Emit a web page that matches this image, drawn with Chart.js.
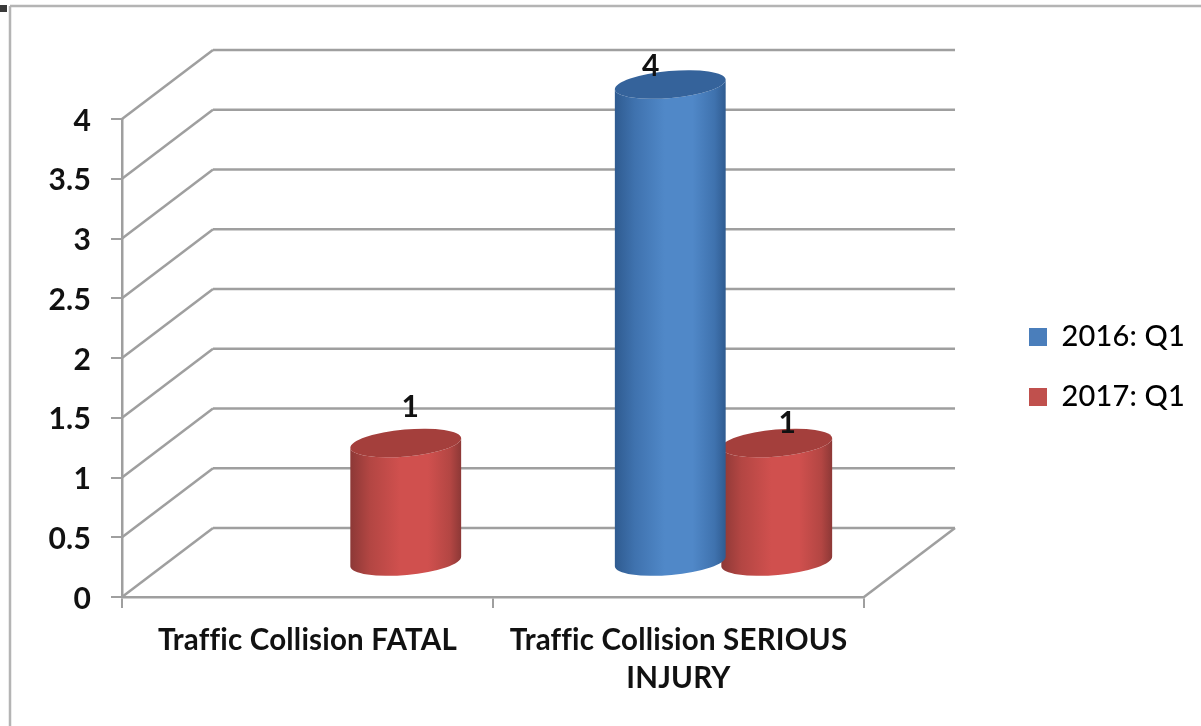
<!DOCTYPE html>
<html>
<head>
<meta charset="utf-8">
<title>Traffic collisions</title>
<script src="https://cdn.jsdelivr.net/npm/chart.js@4"></script>
<style>
    html, body { margin: 0; padding: 0; background: #fff; }
    #wrap { position: relative; width: 1201px; height: 726px; overflow: hidden; }
    canvas { filter: blur(0.5px); }
</style>
</head>
<body>
<div id="wrap"><canvas id="chart" width="1201" height="726"></canvas></div>
<script>
const categories = ['Traffic Collision FATAL', ['Traffic Collision SERIOUS', 'INJURY']];
const seriesNames = ['2016: Q1', '2017: Q1'];
const values2016 = [null, 4];
const values2017 = [1, 1];

const FONT = 'Lato, sans-serif';
const LINE = '#9f9f9f';
const DEPTH_X = 91;   // how far the back wall sits behind the axes
const DEPTH_Y = 69;

// light, dark and cap colours of each cylinder
const shades = [
    { mid: '#5088c8', edge: '#2f5b90', soft: '#3f72ae', cap: '#35639b' },
    { mid: '#d0504e', edge: '#8c3836', soft: '#b34643', cap: '#a43f3c' }
];
// Excel placed these labels by hand, so they do not follow the bar centre
const labelNudge = [
    [null, { x: -20, y: -18 }],
    [{ x: 4, y: -36 }, { x: 10, y: -20 }]
];

function strokeLine(ctx, x1, y1, x2, y2) {
    ctx.beginPath();
    ctx.moveTo(x1, y1);
    ctx.lineTo(x2, y2);
    ctx.stroke();
}

function drawCylinder(ctx, bar, shade) {
    const cx = bar.x + DEPTH_X / 2 - 0.5;
    const rx = bar.width * 1.045 / 2;
    const ry = 13.5;
    const tilt = -0.09;
    const top = bar.y - DEPTH_Y / 2;
    const base = bar.base - DEPTH_Y / 2;

    const grad = ctx.createLinearGradient(cx - rx, 0, cx + rx, 0);
    grad.addColorStop(0, shade.edge);
    grad.addColorStop(0.18, shade.soft);
    grad.addColorStop(0.45, shade.mid);
    grad.addColorStop(0.7, shade.mid);
    grad.addColorStop(0.9, shade.soft);
    grad.addColorStop(1, shade.edge);

    ctx.fillStyle = grad;
    ctx.beginPath();
    ctx.ellipse(cx, base, rx, ry, tilt, 0, Math.PI);
    ctx.ellipse(cx, top, rx, ry, tilt, Math.PI, 0, true);
    ctx.closePath();
    ctx.fill();

    ctx.fillStyle = shade.cap;
    ctx.beginPath();
    ctx.ellipse(cx, top, rx, ry, tilt, 0, Math.PI * 2);
    ctx.fill();
}

const chart3d = {
    id: 'chart3d',
    beforeLayout(chart) {
        // the legend sits far right of the plot, so give it the whole right margin
        if (!chart.legend.patched) {
            const fit = chart.legend.fit;
            chart.legend.fit = function () {
                fit.call(this);
                this.width = 337;
            };
            chart.legend.patched = true;
        }
    },
    afterLayout(chart) {
        chart.legend.left = 1029 - chart.legend.options.labels.padding;
        chart.legend.top = 119;
        chart.legend.bottom = 615;
    },
    beforeDraw(chart) {
        const ctx = chart.ctx;
        ctx.letterSpacing = '0.2px';   // also stops the tight "ffi" ligature in the labels
        ctx.save();
        ctx.fillStyle = '#fff';
        ctx.fillRect(0, 0, chart.width, chart.height);
        ctx.strokeStyle = '#b4b4b4';
        ctx.lineWidth = 2.5;
        strokeLine(ctx, 10, 6, chart.width, 6);
        strokeLine(ctx, 10, 6, 10, chart.height);
        ctx.fillStyle = '#3a3a3a';
        ctx.fillRect(0, 5, 7, 7);
        ctx.restore();
    },
    beforeDatasetsDraw(chart) {
        const ctx = chart.ctx;
        const y = chart.scales.y;
        const a = chart.chartArea;
        ctx.save();
        ctx.strokeStyle = LINE;
        ctx.lineWidth = 2.5;
        y.ticks.forEach(t => {
            const py = y.getPixelForValue(t.value);
            strokeLine(ctx, a.left, py, a.left + DEPTH_X, py - DEPTH_Y);
            strokeLine(ctx, a.left + DEPTH_X, py - DEPTH_Y, a.right + DEPTH_X, py - DEPTH_Y);
        });
        strokeLine(ctx, a.right, a.bottom, a.right + DEPTH_X, a.bottom - DEPTH_Y);
        ctx.restore();
    },
    beforeDatasetDraw(chart, args) {
        const ctx = chart.ctx;
        const meta = args.meta;
        ctx.save();
        meta.data.forEach((bar, i) => {
            if (chart.data.datasets[args.index].data[i] !== null) {
                drawCylinder(ctx, bar, shades[args.index]);
            }
        });
        ctx.restore();
        return false;
    },
    afterDatasetsDraw(chart) {
        const ctx = chart.ctx;
        ctx.save();
        ctx.font = 'bold 30px ' + FONT;
        ctx.fillStyle = '#111';
        ctx.textAlign = 'center';
        ctx.textBaseline = 'middle';
        chart.data.datasets.forEach((ds, d) => {
            chart.getDatasetMeta(d).data.forEach((bar, i) => {
                if (ds.data[i] === null) return;
                const nudge = labelNudge[d][i];
                ctx.fillText(ds.data[i], bar.x + DEPTH_X / 2 + nudge.x, bar.y - DEPTH_Y / 2 + nudge.y);
            });
        });
        ctx.restore();
    }
};

new Chart(document.getElementById('chart'), {
    type: 'bar',
    plugins: [chart3d],
    data: {
        labels: categories,
        datasets: [
            { label: seriesNames[0], data: values2016, backgroundColor: '#4a7ebb', borderWidth: 0 },
            { label: seriesNames[1], data: values2017, backgroundColor: '#c0504d', borderWidth: 0 }
        ]
    },
    options: {
        responsive: false,
        animation: false,
        layout: { padding: { left: 0, right: 0, top: 119, bottom: 26 } },
        datasets: { bar: { categoryPercentage: 0.574, barPercentage: 1 } },
        plugins: {
            tooltip: { enabled: false },
            legend: {
                position: 'right',
                align: 'center',
                onClick: null,
                labels: {
                    boxWidth: 18,
                    boxHeight: 18,
                    padding: 31,
                    color: '#000',
                    font: { family: FONT, size: 29, weight: '500' }
                }
            }
        },
        scales: {
            x: {
                afterFit: s => { s.height = 103; },
                grid: { drawOnChartArea: false, color: LINE, lineWidth: 2, tickLength: 11 },
                border: { color: LINE, width: 2.5 },
                ticks: {
                    color: '#111',
                    padding: 13,
                    maxRotation: 0,
                    autoSkip: false,
                    font: { family: FONT, size: 29.5, weight: 'bold', lineHeight: 1.29 }
                }
            },
            y: {
                min: 0,
                max: 4,
                afterFit: s => { s.width = 122; },
                grid: { drawOnChartArea: false, color: LINE, lineWidth: 2, tickLength: 11 },
                border: { color: LINE, width: 2.5 },
                ticks: {
                    stepSize: 0.5,
                    color: '#111',
                    padding: 20,
                    labelOffset: 2,
                    callback: v => String(v),
                    font: { family: FONT, size: 30, weight: 'bold' }
                }
            }
        }
    }
});
</script>
</body>
</html>
